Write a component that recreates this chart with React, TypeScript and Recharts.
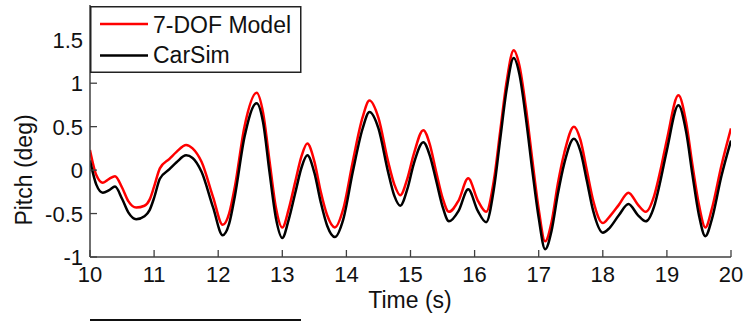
import React from "react";
import { LineChart, Line, XAxis, YAxis, Label } from "recharts";

// sample times (s)
const times = [
  10.0, 10.1, 10.2, 10.3, 10.39, 10.5, 10.6, 10.72, 10.85, 10.93,
  11.0, 11.09, 11.24, 11.35, 11.5, 11.6, 11.74, 11.92, 12.07, 12.17,
  12.26, 12.41, 12.6, 12.7, 12.8, 12.9, 13.0, 13.1, 13.2, 13.3,
  13.39, 13.5, 13.6, 13.7, 13.82, 13.95, 14.1, 14.25, 14.36, 14.5,
  14.65, 14.75, 14.84, 14.95, 15.05, 15.2, 15.3, 15.4, 15.5, 15.6,
  15.75, 15.9, 16.05, 16.18, 16.3, 16.4, 16.5, 16.61, 16.7, 16.8,
  16.9, 17.0, 17.1, 17.2, 17.3, 17.4, 17.55, 17.65, 17.75, 17.85,
  18.0, 18.1, 18.25, 18.4, 18.55, 18.67, 18.8, 18.9, 19.0, 19.18,
  19.3, 19.4, 19.5, 19.6, 19.7, 19.85, 20.0,
];

// 7-DOF model pitch (deg)
const dofModel = [
  0.23, -0.06, -0.145, -0.1, -0.07, -0.2, -0.36, -0.43, -0.41, -0.34,
  -0.19, 0.02, 0.13, 0.21, 0.29, 0.25, 0.095, -0.31, -0.63, -0.5,
  -0.19, 0.5, 0.89, 0.66, 0.11, -0.43, -0.66, -0.45, -0.14, 0.16,
  0.305, 0.1, -0.25, -0.52, -0.66, -0.45, 0.1, 0.6, 0.8, 0.6,
  0.1, -0.17, -0.29, -0.1, 0.18, 0.46, 0.3, -0.02, -0.32, -0.48,
  -0.35, -0.095, -0.35, -0.48, -0.12, 0.45, 1.02, 1.38, 1.2, 0.72,
  0.12, -0.45, -0.82, -0.6, -0.15, 0.2, 0.5, 0.35, 0.0, -0.35,
  -0.61, -0.54, -0.4, -0.26, -0.4, -0.48, -0.3, 0.0, 0.35, 0.86,
  0.55, 0.05, -0.4, -0.66, -0.45, 0.05, 0.48,
];

// CarSim pitch (deg)
const carSim = [
  0.11, -0.17, -0.26, -0.23, -0.19, -0.33, -0.49, -0.565, -0.53, -0.46,
  -0.32, -0.1, 0.01, 0.09, 0.17, 0.14, -0.02, -0.43, -0.75, -0.62,
  -0.3, 0.38, 0.77, 0.55, -0.02, -0.55, -0.78, -0.57, -0.27, 0.03,
  0.17, -0.03, -0.37, -0.64, -0.77, -0.57, -0.02, 0.47, 0.67, 0.48,
  -0.02, -0.3, -0.41, -0.22, 0.07, 0.32, 0.17, -0.12, -0.42, -0.59,
  -0.47, -0.22, -0.47, -0.6, -0.22, 0.36, 0.93, 1.29, 1.1, 0.6,
  0.0, -0.55, -0.91, -0.7, -0.27, 0.08, 0.36, 0.22, -0.12, -0.47,
  -0.72, -0.67, -0.52, -0.39, -0.52, -0.59, -0.42, -0.12, 0.23, 0.745,
  0.44, -0.06, -0.52, -0.76, -0.57, -0.07, 0.34,
];

const xTicks = [10, 11, 12, 13, 14, 15, 16, 17, 18, 19, 20];
const yTicks = [-1, -0.5, 0, 0.5, 1, 1.5];

const FONT = "'Liberation Sans', Arial, sans-serif";
const AXIS = "#404040";
const TEXT = "#111";

const data = times.map((t, i) => ({ t, dof: dofModel[i], carsim: carSim[i] }));

function XTick({ x, y, payload }: any) {
  return (
    <g>
      <line x1={x} y1={y} x2={x} y2={y - 7} stroke={AXIS} strokeWidth={1.3} />
      <text x={x} y={y + 25} textAnchor="middle" fontSize={22} fill={TEXT} fontFamily={FONT}>
        {payload.value}
      </text>
    </g>
  );
}

function YTick({ x, y, payload }: any) {
  return (
    <g>
      <line x1={x} y1={y} x2={x + 7} y2={y} stroke={AXIS} strokeWidth={1.3} />
      <text x={x - 7} y={y + 8} textAnchor="end" fontSize={22} fill={TEXT} fontFamily={FONT}>
        {payload.value}
      </text>
    </g>
  );
}

// boxed legend in the upper left corner, like the MATLAB one
function LegendBox() {
  return (
    <svg width={212} height={67} style={{ position: "absolute", left: 90, top: 6, display: "block" }}>
      <rect x={0.75} y={0.75} width={210} height={65.5} fill="#fff" stroke="#222" strokeWidth={1.5} />
      <line x1={10} x2={58} y1={18} y2={18} stroke="#ff0000" strokeWidth={2.5} />
      <text x={63} y={27} fontSize={23} fill={TEXT} fontFamily={FONT}>
        7-DOF Model
      </text>
      <line x1={10} x2={58} y1={49.5} y2={49.5} stroke="#000" strokeWidth={2.5} />
      <text x={63} y={57} fontSize={23} fill={TEXT} fontFamily={FONT}>
        CarSim
      </text>
    </svg>
  );
}

export default function App() {
  return (
    <div style={{ position: "absolute", left: 0, top: 0, width: 747, height: 321, background: "#fff" }}>
      <LineChart
        width={747}
        height={321}
        data={data}
        margin={{ top: 5, right: 16, left: 0, bottom: 0 }}
      >
        <XAxis
          dataKey="t"
          type="number"
          domain={[10, 20]}
          ticks={xTicks}
          height={64}
          tickSize={0}
          tickMargin={0}
          tickLine={false}
          axisLine={{ stroke: AXIS, strokeWidth: 1.5 }}
          tick={<XTick />}
          allowDataOverflow
        >
          <Label
            content={() => (
              <text x={410} y={308} textAnchor="middle" fontSize={23} fill={TEXT} fontFamily={FONT}>
                Time (s)
              </text>
            )}
          />
        </XAxis>
        <YAxis
          type="number"
          domain={[-1, 1.9]}
          ticks={yTicks}
          width={90}
          tickSize={0}
          tickMargin={0}
          tickLine={false}
          axisLine={{ stroke: AXIS, strokeWidth: 1.5 }}
          tick={<YTick />}
          allowDataOverflow
        >
          <Label
            content={() => (
              <text
                x={32}
                y={170}
                transform="rotate(-90 32 170)"
                textAnchor="middle"
                fontSize={23}
                fill={TEXT}
                fontFamily={FONT}
              >
                Pitch (deg)
              </text>
            )}
          />
        </YAxis>
        <Line
          type="monotone"
          dataKey="dof"
          name="7-DOF Model"
          stroke="#ff0000"
          strokeWidth={2.5}
          dot={false}
          isAnimationActive={false}
        />
        <Line
          type="monotone"
          dataKey="carsim"
          name="CarSim"
          stroke="#000000"
          strokeWidth={2.5}
          dot={false}
          isAnimationActive={false}
        />
      </LineChart>
      <LegendBox />
      <div style={{ position: "absolute", left: 90, top: 319, width: 211, height: 2, background: "#111" }} />
    </div>
  );
}
